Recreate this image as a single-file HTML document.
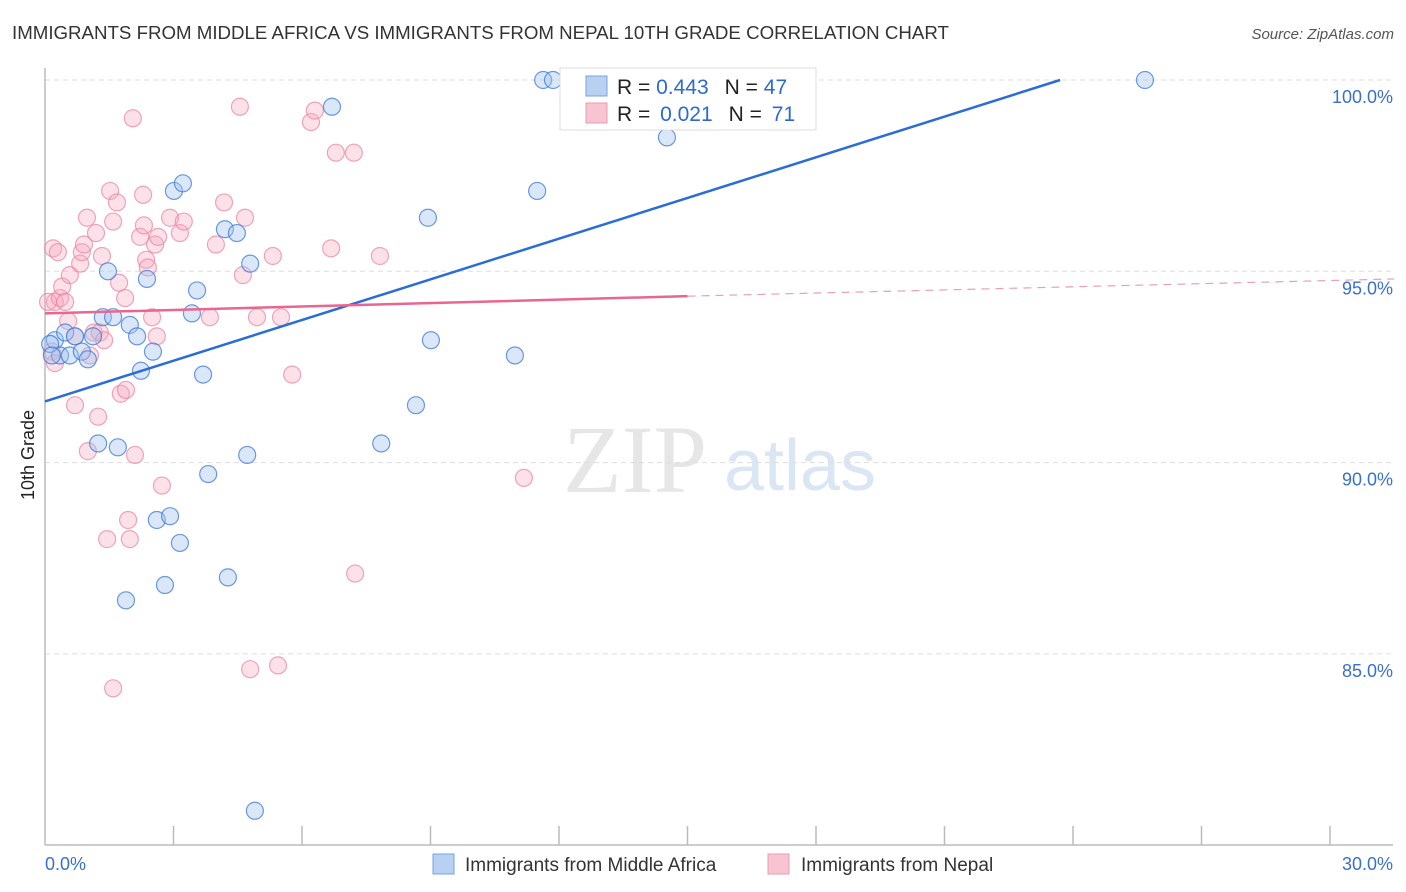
<!DOCTYPE html>
<html><head><meta charset="utf-8"><style>
body{margin:0;background:#fff;font-family:"Liberation Sans",sans-serif;}
svg{display:block}
</style></head><body>
<svg id="chart" width="1406" height="892">
<text x="12" y="39" font-size="18.7" fill="#333">IMMIGRANTS FROM MIDDLE AFRICA VS IMMIGRANTS FROM NEPAL 10TH GRADE CORRELATION CHART</text>
<text x="1394" y="39" font-size="15" fill="#555" font-style="italic" text-anchor="end">Source: ZipAtlas.com</text>
<text x="635" y="492" font-size="96" fill="#e6e6e6" font-family="Liberation Serif,serif" text-anchor="middle">ZIP</text>
<text x="800" y="490" font-size="72" fill="#dbe6f4" text-anchor="middle">atlas</text>
<g id="grid"></g>
<g id="axes"></g>
<g id="points"></g>
<g id="trend"></g>
<text transform="translate(34,455) rotate(-90)" font-size="18" fill="#222" text-anchor="middle">10th Grade</text>
<g>
<rect x="560" y="68" width="256" height="62" fill="#fff" stroke="#ddd"/>
<rect x="586" y="76" width="21" height="20" fill="#b8d0f2" stroke="#7aa3e0"/>
<rect x="586" y="103" width="21" height="20" fill="#f9c4d2" stroke="#eb9ab0"/>
<text x="617" y="94" font-size="21" fill="#222">R = <tspan fill="#2b6ad0">0.443</tspan><tspan dx="16">N = </tspan><tspan fill="#2b6ad0">47</tspan></text>
<text x="617" y="121" font-size="21" fill="#222">R = <tspan fill="#2b6ad0" dx="4">0.021</tspan><tspan dx="16">N = </tspan><tspan fill="#2b6ad0" dx="4">71</tspan></text>
</g>
<g>
<rect x="433" y="854" width="21" height="20" fill="#b8d0f2" stroke="#7aa3e0"/>
<text x="465" y="871" font-size="19" fill="#333">Immigrants from Middle Africa</text>
<rect x="768" y="854" width="21" height="20" fill="#f9c4d2" stroke="#eb9ab0"/>
<text x="801" y="871" font-size="19" fill="#333">Immigrants from Nepal</text>
</g>
</svg>
<script>
const yTicks=[100,95,90,85];
const xTickLabels=["0.0%","30.0%"];
const blueX=[0.23,0.35,0.12,0.16,0.47,0.58,0.70,0.86,1.0,1.12,1.35,1.59,1.24,1.7,1.47,1.98,2.15,2.24,2.38,2.52,3.01,3.22,3.43,3.55,3.69,3.81,4.20,4.48,4.79,4.72,2.61,2.92,3.15,2.80,1.89,4.27,4.90,6.70,7.85,8.66,8.94,9.01,10.97,11.49,11.63,11.86,14.52,25.68];
const blueY=[93.2,92.8,93.1,92.8,93.4,92.8,93.3,92.9,92.7,93.3,93.8,93.8,90.5,90.4,95.0,93.6,93.3,92.4,94.8,92.9,97.1,97.3,93.9,94.5,92.3,89.7,96.1,96.0,95.2,90.2,88.5,88.6,87.9,86.8,86.4,87.0,80.9,99.3,90.5,91.5,96.4,93.2,92.8,97.1,100.0,100.0,98.5,100.0];
const pinkX=[0.19,0.30,0.23,0.07,0.16,0.23,0.35,0.40,0.47,0.54,0.58,0.70,0.82,0.86,0.91,0.98,1.05,1.14,1.19,1.28,1.33,1.38,1.52,1.59,1.68,1.73,1.77,1.89,1.87,0.70,1.24,1.00,2.10,1.94,1.45,1.98,2.73,2.05,2.22,2.29,2.31,2.36,2.40,2.57,2.64,2.50,2.61,2.92,3.15,3.24,3.99,4.18,4.62,4.67,3.85,4.95,5.51,5.32,5.77,6.68,7.82,6.21,6.30,6.79,7.21,4.55,4.79,5.44,1.59,7.24,11.18];
const pinkY=[95.6,95.5,94.2,94.2,92.9,92.6,94.3,94.6,94.2,93.7,94.9,93.3,95.2,95.5,95.7,96.4,92.8,93.4,96.0,93.4,95.4,93.2,97.1,96.3,96.8,94.7,91.8,91.9,94.3,91.5,91.2,90.3,90.2,88.5,88.0,88.0,89.4,99.0,95.9,97.0,96.2,95.3,95.1,95.7,95.9,93.8,93.3,96.4,96.0,96.3,95.7,96.8,94.9,96.4,93.8,93.8,93.8,95.4,92.3,95.6,95.4,98.9,99.2,98.1,98.1,99.3,84.6,84.7,84.1,87.1,89.6];
const blueTrend=[[0,91.6],[23.7,100]];
const pinkTrend=[[0,93.9],[15,94.35],[31.5,94.8]];
const ns="http://www.w3.org/2000/svg";
const X0=45,X1=1330;
function sx(v){return X0+(X1-X0)*v/30;}
function sy(v){return 80+(100-v)*38.26;}
function mk(tag,attrs,parent){const e=document.createElementNS(ns,tag);for(const k in attrs)e.setAttribute(k,attrs[k]);document.getElementById(parent).appendChild(e);return e;}
yTicks.forEach(t=>{
  const l=mk('line',{x1:X0,x2:1393,y1:sy(t),y2:sy(t),stroke:'#ddd','stroke-dasharray':'5,4'},'grid');
  
  
  const tx=mk('text',{x:1393,y:sy(t)+23,'font-size':18,fill:'#3a70cc','text-anchor':'end'},'grid');
  tx.textContent=t.toFixed(1)+'%';
  
  
});
const ax=mk('line',{x1:X0,x2:X0,y1:68,y2:845,stroke:'#bbb','stroke-width':1.5},'axes');


const bx=mk('line',{x1:X0,x2:1393,y1:845,y2:845,stroke:'#bbb','stroke-width':1.5},'axes');


for(let i=1;i<=10;i++){const v=i*3;const t=mk('line',{x1:sx(v),x2:sx(v),y1:826,y2:845,stroke:'#bbb','stroke-width':1.5},'axes');
  
  }
const l0=mk('text',{x:45,y:870,'font-size':18,fill:'#3a70cc'},'axes');l0.textContent=xTickLabels[0];


const l1=mk('text',{x:1393,y:870,'font-size':18,fill:'#3a70cc','text-anchor':'end'},'axes');l1.textContent=xTickLabels[1];


pinkX.forEach((x,i)=>{const c=mk('circle',{cx:sx(x),cy:sy(pinkY[i]),r:8.5,fill:'rgba(246,170,192,0.35)',stroke:'rgba(232,130,160,0.7)','stroke-width':1.2},'points');
  
  });
blueX.forEach((x,i)=>{const c=mk('circle',{cx:sx(x),cy:sy(blueY[i]),r:8.5,fill:'rgba(160,195,240,0.4)',stroke:'rgba(60,120,215,0.75)','stroke-width':1.2},'points');
  
  });
const bt=mk('line',{x1:sx(blueTrend[0][0]),y1:sy(blueTrend[0][1]),x2:sx(blueTrend[1][0]),y2:sy(blueTrend[1][1]),stroke:'#2a6dd4','stroke-width':2.5},'trend');


const pt=mk('line',{x1:sx(pinkTrend[0][0]),y1:sy(pinkTrend[0][1]),x2:sx(pinkTrend[1][0]),y2:sy(pinkTrend[1][1]),stroke:'#e8668f','stroke-width':2.5},'trend');


const pd=mk('line',{x1:sx(pinkTrend[1][0]),y1:sy(pinkTrend[1][1]),x2:sx(pinkTrend[2][0]),y2:sy(pinkTrend[2][1]),stroke:'#e8a0b6','stroke-width':1.2,'stroke-dasharray':'8,6'},'trend');


</script>
</body></html>
